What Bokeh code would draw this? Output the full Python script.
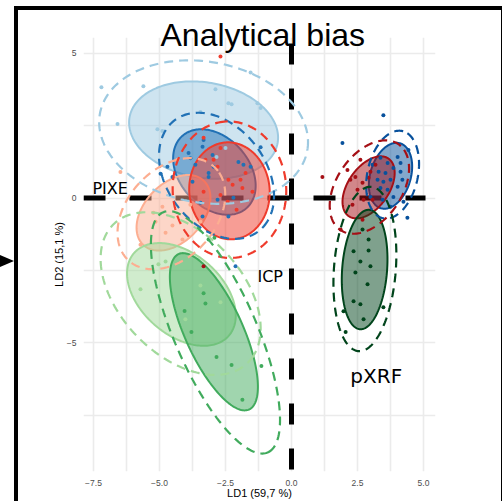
import numpy as np
from bokeh.plotting import figure
from bokeh.models import Range1d, FixedTicker, Label, Title, InlineStyleSheet
from bokeh.embed import file_html
from bokeh.resources import INLINE

# ---------------- data (LD1, LD2) ----------------
lb_x = [-7.20, -5.61, -6.59, -2.88, -2.39, -2.27, -1.29, -1.17, -3.45, -5.08, -4.89, -2.50, -2.84, -1.55]
lb_y = [3.83, 3.86, 2.56, 3.76, 3.28, 3.24, 3.28, 3.11, 2.97, 2.38, 2.32, 1.73, 1.42, 4.34]

mb_x = [-3.90, -3.83, -3.37, -3.33, -3.64, -3.14, -3.14, -2.95, -2.01, -1.82, -1.55, -1.17,
        -4.70, -4.96, -3.75, -2.80, -2.20, -2.39, -3.37, -2.99, -2.12, -4.51, -3.45]
mb_y = [1.56, 1.38, 1.77, 2.01, 1.15, 0.87, 0.73, 1.08, 1.25, 1.15, 1.08, 1.76,
        1.08, 0.84, 0.56, -0.06, 0.01, -0.64, -0.64, 1.49, -2.36, 0.73, -0.16]

rd_x = [-3.33, -3.26, -2.95, -2.80, -2.39, -2.23, -1.93, -1.86, -2.69, -2.42, -3.33, -1.48, -2.69, -1.74, -2.69, -2.08]
rd_y = [2.08, 1.32, 1.32, 1.08, 0.63, 0.46, 0.63, 0.35, 0.11, -0.13, 0.22, 0.22, 1.73, 0.87, 4.89, -0.40]

sa_x = [-6.48, -4.32, -4.89, -5.15, -4.77, -5.23, -4.51, -3.83, -5.72, -4.13, -3.45]
sa_y = [0.90, 1.32, -0.30, -0.82, -1.20, -0.51, -0.95, -0.23, -1.61, -1.43, -0.82]

lg_x = [-5.04, -4.77, -2.69, -3.45, -5.72, -4.02]
lg_y = [-2.29, -2.19, -3.60, -3.02, -3.15, -4.19]

mg_x = [-3.33, -3.26, -4.05, -3.79, -2.84, -2.27, -1.86, -1.14, -3.14, -2.92]
mg_y = [-3.29, -3.64, -3.90, -4.63, -5.49, -5.77, -6.97, -5.80, -1.43, -1.37]

dr_x = [-3.33, 1.17, 2.12, 2.42, 2.69, 2.92, 2.50, 2.73, 2.31, 2.69, 1.86, 3.07, 2.99, 3.18, 2.23, 2.61]
dr_y = [-2.36, 0.73, 0.97, 0.73, 0.53, 0.70, 0.29, -0.06, -0.23, -0.75, -1.09, -0.06, 0.91, 1.15, 0.63, 1.32]

db_x = [3.48, 1.93, 3.37, 3.64, 4.02, 4.13, 3.30, 3.56, 3.86, 4.13, 3.26, 3.48, 3.75, 4.02, 3.37,
        3.64, 3.86, 4.24, 4.39, 3.75, 2.99, 3.45, 4.20, 4.43, 3.07]
db_y = [2.86, 1.90, 1.39, 1.21, 1.42, 1.21, 0.91, 0.87, 1.04, 0.91, 0.63, 0.56, 0.63, 0.39, 0.35,
        0.29, 0.04, -0.13, -0.68, -0.30, 0.04, -0.06, 0.63, 1.66, 1.15]

dg_x = [2.92, 2.35, 2.92, 2.61, 2.99, 2.42, 2.88, 2.35, 2.61, 1.97, 2.73, 3.48, 2.05, 2.69]
dg_y = [-1.43, -1.84, -1.81, -2.19, -2.36, -2.57, -2.98, -3.57, -3.67, -3.91, -4.19, -3.77, -4.63, -1.09]

groups = ["lb", "mb", "db", "sa", "rd", "dr", "lg", "mg", "dg"]
colors = ["#9ecae1", "#2171b5", "#08519c", "#fcae91", "#ef3b2c", "#a50f15", "#a1d99b", "#41ab5d", "#00441b"]
points = {"lb": (lb_x, lb_y), "mb": (mb_x, mb_y), "db": (db_x, db_y), "sa": (sa_x, sa_y),
          "rd": (rd_x, rd_y), "dr": (dr_x, dr_y), "lg": (lg_x, lg_y), "mg": (mg_x, mg_y), "dg": (dg_x, dg_y)}

# ellipses: centre x, centre y, semi-major, semi-minor, angle (deg)
solid_cx = [-3.33, -2.92, 3.75, -4.47, -2.35, 2.92, -4.17, -2.94, 2.77]
solid_cy = [2.35, 0.90, 0.77, -0.51, 0.25, 0.37, -3.33, -4.62, -2.47]
solid_a = [2.84, 1.75, 1.18, 1.60, 1.68, 1.25, 2.30, 3.00, 2.07]
solid_b = [1.65, 1.25, 0.76, 1.05, 1.52, 0.75, 1.45, 1.08, 0.85]
solid_ang = [-8, -40, 70, 40, 100, 50, -35, -63, 85]

dash_cx = [-3.33, -2.84, 3.83, -4.55, -2.35, 2.95, -4.20, -2.88, 2.78]
dash_cy = [2.28, 0.77, 0.81, -0.54, 0.29, 0.38, -3.30, -4.64, -2.45]
dash_a = [3.98, 2.50, 1.55, 2.30, 2.36, 1.85, 3.50, 4.60, 2.85]
dash_b = [2.44, 1.80, 0.95, 1.60, 2.15, 1.20, 2.20, 1.54, 1.17]
dash_ang = [-8, -45, 75, 40, 95, 50, -40, -64, 85]

x_ticks = [-7.5, -5.0, -2.5, 0.0, 2.5, 5.0]
x_tick_labels = ["\u22127.5", "\u22125.0", "\u22122.5", "0.0", "2.5", "5.0"]
y_ticks = [-5.0, 0.0, 5.0]
y_tick_labels = ["\u22125", "0", "5"]

title_text = "Analytical bias"
method_labels = ["PIXE", "ICP", "pXRF"]
method_lx = [-7.54, -1.29, 2.23]
method_ly = [0.34, -2.71, -6.14]
method_size = ["16px", "16px", "20px"]

# ---------------- helpers ----------------
def ellipse(cx, cy, a, b, ang):
    t = np.linspace(0, 2 * np.pi, 200)
    th = np.deg2rad(ang)
    ex = a * np.cos(t)
    ey = b * np.sin(t)
    return cx + ex * np.cos(th) - ey * np.sin(th), cy + ex * np.sin(th) + ey * np.cos(th)

# pixel -> data, used only for placing the panel
def px2x(px):
    return (px - 291.0) / 26.4

def py2y(py):
    return (198.3 - py) / 29.07

p = figure(width=503, height=501, output_backend="svg", toolbar_location=None,
           x_range=Range1d(px2x(83), px2x(435)), y_range=Range1d(py2y(473), py2y(37)),
           min_border_left=83, min_border_right=68, min_border_top=37, min_border_bottom=28)
p.outline_line_color = None
p.background_fill_color = "white"
p.border_fill_color = "white"

# title overlapping the top of the panel
p.title = Title(text=title_text, text_font="Liberation Sans", text_font_size="32px",
                text_font_style="normal", text_color="black", align="left", offset=77,
                vertical_align="bottom", standoff=-30)

xt = FixedTicker(ticks=x_ticks, minor_ticks=[-6.25, -3.75, -1.25, 1.25, 3.75])
yt = FixedTicker(ticks=y_ticks, minor_ticks=[-7.5, -2.5, 2.5])
p.xaxis.ticker = xt
p.yaxis.ticker = yt
p.xaxis.major_label_overrides = {float(k): v for k, v in zip(x_ticks, x_tick_labels)}
p.yaxis.major_label_overrides = {float(k): v for k, v in zip(y_ticks, y_tick_labels)}
for ax in (p.xaxis, p.yaxis):
    ax.axis_line_color = None
    ax.major_tick_line_color = None
    ax.minor_tick_line_color = None
    ax.major_tick_out = 0
    ax.major_tick_in = 0
    ax.major_label_text_font = "Liberation Sans"
    ax.major_label_text_font_size = "8.5px"
    ax.major_label_text_color = "#4d4d4d"
    ax.axis_label_text_font = "Liberation Sans"
    ax.axis_label_text_font_size = "11px"
    ax.axis_label_text_font_style = "normal"
    ax.axis_label_text_color = "black"
p.xaxis.axis_label = "LD1 (59,7 %)"
p.yaxis.axis_label = "LD2 (15,1 %)"
p.xaxis.major_label_standoff = 4
p.xaxis.axis_label_standoff = -2
p.xaxis.axis_label_text_line_height = 1.0
p.yaxis.major_label_standoff = 3
p.yaxis.axis_label_standoff = -1

for g in (p.xgrid, p.ygrid):
    g.grid_line_color = "#ebebeb"
    g.grid_line_width = 1.6
    g.minor_grid_line_color = "#ebebeb"
    g.minor_grid_line_width = 1.6

# black reference lines
p.line([px2x(83), px2x(425)], [0, 0], line_color="black", line_width=5, line_dash="22 24")
p.line([0, 0], [py2y(43), py2y(480)], line_color="black", line_width=5, line_dash="21 24")

# filled ellipses
for i, g in enumerate(groups):
    ex, ey = ellipse(solid_cx[i], solid_cy[i], solid_a[i], solid_b[i], solid_ang[i])
    p.patch(ex, ey, fill_color=colors[i], fill_alpha=0.5, line_color=colors[i], line_width=2)

# points
for i, g in enumerate(groups):
    xs, ys = points[g]
    p.scatter(xs, ys, size=4, fill_color=colors[i], line_color=None)

# dashed ellipses
for i, g in enumerate(groups):
    ex, ey = ellipse(dash_cx[i], dash_cy[i], dash_a[i], dash_b[i], dash_ang[i])
    p.line(ex, ey, line_color=colors[i], line_width=2.2, line_dash="9 6")

# method labels
for t, lx, ly, fs in zip(method_labels, method_lx, method_ly, method_size):
    p.add_layout(Label(x=lx, y=ly, text=t, text_font="DejaVu Sans", text_font_size=fs,
                       text_color="black", text_baseline="alphabetic", text_align="left"))

# outer frame of the surrounding panel and the pointer arrow (pure decoration)
frame_css = InlineStyleSheet(css="""
:host { position: relative; }
:host::before {
  content: ""; position: absolute; left: 13.5px; top: 6px; width: 488px; height: 500px;
  box-sizing: border-box; border-left: 4.5px solid black; border-top: 4px solid black;
  border-right: 1.5px solid black; pointer-events: none; z-index: 100;
}
:host::after {
  content: ""; position: absolute; left: 0px; top: 255px; width: 0; height: 0;
  border-top: 6.5px solid transparent; border-bottom: 6.5px solid transparent;
  border-left: 14px solid black; pointer-events: none; z-index: 100;
}
""")
p.stylesheets = [frame_css]

open("out.html", "w").write(file_html(p, INLINE))
